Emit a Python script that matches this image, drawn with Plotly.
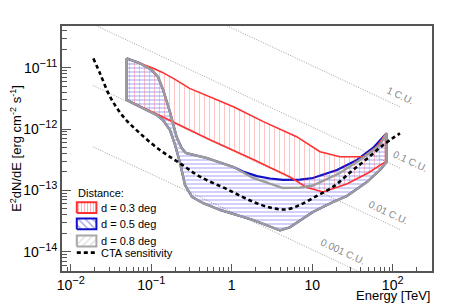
import plotly.graph_objects as go

# ---------------- data ----------------
# d = 0.8 deg band (grey outline)
E_gray_up = [0.0496, 0.0726, 0.101, 0.122, 0.141, 0.171, 0.207, 0.239, 0.27, 0.333, 0.489,
             1.05, 1.84, 4.34, 7.05, 10.2, 22.1, 42.8, 69.5, 84]
F_gray_up = [1.42e-11, 1.18e-11, 9.2e-12, 7.05e-12, 4.3e-12, 1.9e-12, 7.4e-13, 4.9e-13, 4.07e-13,
             3.78e-13, 3.37e-13, 2.4e-13, 1.59e-13, 1.09e-13, 1.11e-13, 1.2e-13, 1.92e-13,
             3.4e-13, 5.5e-13, 8.5e-13]
E_gray_lo = [0.0496, 0.117, 0.140, 0.171, 0.198, 0.228, 0.263, 0.321, 0.44, 0.716, 1.84, 3.98,
             5.3, 7.05, 10.2, 18.1, 27, 47.9, 69.5, 84]
F_gray_lo = [2.97e-12, 1.69e-12, 1.40e-12, 9.6e-13, 5.5e-13, 2.79e-13, 1.22e-13, 7.8e-14, 6.2e-14,
             4.8e-14, 3.29e-14, 2.22e-14, 2.5e-14, 3.16e-14, 4.44e-14, 6.45e-14, 8.1e-14,
             1.37e-13, 2.15e-13, 2.9e-13]

# d = 0.5 deg band (blue); lower edge equals the grey lower edge
E_blue_up = [0.0496, 0.0726, 0.101, 0.122, 0.141, 0.171, 0.207, 0.239, 0.27, 0.333, 0.489,
             1.05, 1.38, 2.06, 2.99, 4.34, 7.05, 10.2, 20.3, 36, 56.9, 84]
F_blue_up = [1.42e-11, 1.18e-11, 9.2e-12, 7.05e-12, 4.3e-12, 1.9e-12, 7.4e-13, 4.9e-13, 4.07e-13,
             3.78e-13, 3.37e-13, 2.4e-13, 2.03e-13, 1.71e-13, 1.56e-13, 1.48e-13, 1.5e-13,
             1.59e-13, 2.15e-13, 3.13e-13, 4.91e-13, 8.5e-13]
E_blue_lo = E_gray_lo
F_blue_lo = F_gray_lo

# d = 0.3 deg band (red)
E_red_up = [0.0496, 0.0726, 0.106, 0.14, 0.2, 0.3, 0.45, 0.7, 1.05, 2.47, 6.4, 12.5, 22.1, 43.1,
            63.3, 80, 84]
F_red_up = [1.42e-11, 1.18e-11, 9.8e-12, 8.3e-12, 6.4e-12, 4.6e-12, 3.7e-12, 2.95e-12, 2.31e-12,
            1.32e-12, 7.5e-13, 4.27e-13, 3.54e-13, 3.54e-13, 5.15e-13, 8.0e-13, 8.5e-13]
E_red_lo = [0.0496, 0.117, 0.512, 1.69, 5.3, 8.6, 13.7, 26.8, 49.3, 84]
F_red_lo = [2.97e-12, 1.76e-12, 6.9e-13, 3.37e-13, 1.65e-13, 1.11e-13, 9.4e-14, 1.27e-13, 1.92e-13, 3.0e-13]

# CTA sensitivity
E_cta = [0.0191, 0.0231, 0.0308, 0.045, 0.0726, 0.128, 0.228, 0.404, 0.867, 1.85, 3.29, 4.82,
         7.05, 11.4, 18.3, 29.5, 47.5, 76.4, 123]
F_cta = [1.42e-11, 8.1e-12, 3.37e-12, 1.59e-12, 8.5e-13, 4.55e-13, 2.76e-13, 1.67e-13, 1.05e-13,
         6.5e-14, 5.1e-14, 4.9e-14, 5.8e-14, 8.1e-14, 1.15e-13, 1.95e-13, 3.25e-13, 5.5e-13, 8.5e-13]

# Crab-unit reference lines (end points)
cu_names = ["1 C.U.", "0.1 C.U.", "0.01 C.U.", "0.001 C.U."]
cu_E = [0.0191, 123]
cu_F = [[5.1e-10, 2.3e-12], [5.1e-11, 2.3e-13], [5.1e-12, 2.3e-14], [5.1e-13, 2.3e-15]]
cu_label_pos = [(2.091, -11.46), (2.224, -12.533), (1.942, -13.369), (1.379, -14.0)]

legend_title = "Distance:"
legend_names = ["d = 0.3 deg", "d = 0.5 deg", "d = 0.8 deg", "CTA sensitivity"]

SUP = "<sup><span style='font-size:11px'>{}</span></sup>"
x_tickvals = [0.01, 0.1, 1, 10, 100]
x_ticktext = ["10" + SUP.format("\u22122"), "10" + SUP.format("\u22121"), "1", "10", "10" + SUP.format("2")]
y_tickvals = [1e-14, 1e-13, 1e-12, 1e-11]
y_ticktext = ["10" + SUP.format("\u221214"), "10" + SUP.format("\u221213"),
              "10" + SUP.format("\u221212"), "10" + SUP.format("\u221211")]

x_minor = [m * 10.0 ** k for k in range(-3, 3) for m in range(2, 10)]
y_minor = [m * 10.0 ** k for k in range(-15, -10) for m in range(2, 10)]

FONT = "Liberation Sans, Arial, Helvetica, sans-serif"
RED, BLUE, GREY = "#ff3030", "#1010c8", "#9c9c9c"

def band(xu, yu, xl, yl):
    return list(xu) + list(reversed(xl)) + [xu[0]], list(yu) + list(reversed(yl)) + [yu[0]]

fig = go.Figure()

for ff in cu_F:
    fig.add_trace(go.Scatter(x=cu_E, y=ff, mode="lines", showlegend=False, hoverinfo="skip",
                             line=dict(color="#a0a0a0", width=1, dash="1px,1.5px")))

bx, by = band(E_blue_up, F_blue_up, E_blue_lo, F_blue_lo)
fig.add_trace(go.Scatter(x=bx, y=by, mode="lines", fill="toself", name=legend_names[1],
                         fillcolor="rgba(0,0,0,0)",
                         fillpattern=dict(shape="-", fgcolor="rgba(45,45,235,0.9)",
                                          bgcolor="rgba(0,0,0,0)", size=4, solidity=0.25),
                         line=dict(color=BLUE, width=2.2)))

rx, ry = band(E_red_up, F_red_up, E_red_lo, F_red_lo)
fig.add_trace(go.Scatter(x=rx, y=ry, mode="lines", fill="toself", name=legend_names[0],
                         fillcolor="rgba(0,0,0,0)",
                         fillpattern=dict(shape="|", fgcolor="rgba(255,60,60,0.6)",
                                          bgcolor="rgba(0,0,0,0)", size=5, solidity=0.2),
                         line=dict(color=RED, width=1.6)))

gx, gy = band(E_gray_up, F_gray_up, E_gray_lo, F_gray_lo)
fig.add_trace(go.Scatter(x=gx, y=gy, mode="lines", name=legend_names[2],
                         line=dict(color=GREY, width=2.4)))

fig.add_trace(go.Scatter(x=E_cta, y=F_cta, mode="lines", name=legend_names[3],
                         line=dict(color="black", width=2.6, dash="4px,3px", shape="spline")))

# ---------- hand-drawn legend (ROOT style, on an overlay 0..1 axis) ----------
sw_x0, sw_x1 = 0.040, 0.093
sw_rows = [(0.237, 0.281), (0.170, 0.214), (0.100, 0.145)]
sw_style = [
    dict(shape="|", fgcolor="rgba(255,60,60,0.75)", size=3, solidity=0.34, line=RED),
    dict(shape="\\", fgcolor="rgba(30,30,210,0.9)", size=5, solidity=0.25, line=BLUE),
    dict(shape="/", fgcolor="rgba(175,175,175,0.9)", size=5, solidity=0.25, line="#a8a8a8"),
]
for (y0, y1), st in zip(sw_rows, sw_style):
    fig.add_trace(go.Scatter(x=[sw_x0, sw_x1, sw_x1, sw_x0, sw_x0], y=[y0, y0, y1, y1, y0],
                             xaxis="x2", yaxis="y2", mode="lines", fill="toself",
                             showlegend=False, hoverinfo="skip", fillcolor="rgba(0,0,0,0)",
                             fillpattern=dict(shape=st["shape"], fgcolor=st["fgcolor"],
                                              bgcolor="rgba(0,0,0,0)", size=st["size"],
                                              solidity=st["solidity"]),
                             line=dict(color=st["line"], width=2)))
fig.add_trace(go.Scatter(x=[sw_x0, sw_x1], y=[0.075, 0.075], xaxis="x2", yaxis="y2",
                         mode="lines", showlegend=False, hoverinfo="skip",
                         line=dict(color="black", width=2.6, dash="4px,3px")))

fig.add_annotation(x=0.037, y=0.317, xref="paper", yref="paper", text=legend_title,
                   showarrow=False, xanchor="left", yanchor="middle",
                   font=dict(family=FONT, size=11, color="black"))
for name, yc in zip(legend_names, [0.259, 0.192, 0.1225, 0.075]):
    fig.add_annotation(x=0.1, y=yc, xref="paper", yref="paper", text=name,
                       showarrow=False, xanchor="left", yanchor="middle",
                       font=dict(family=FONT, size=11, color="black"))

for name, (lx, ly) in zip(cu_names, cu_label_pos):
    fig.add_annotation(x=lx, y=ly, xref="x", yref="y", text=name, showarrow=False,
                       textangle=25, font=dict(family=FONT, size=10, color="#8a8a8a"))

fig.add_annotation(x=1, y=-0.102, xref="paper", yref="paper", text="Energy [TeV]",
                   showarrow=False, xanchor="right", yanchor="middle",
                   font=dict(family=FONT, size=13, color="black"))

axis_common = dict(type="log", showgrid=False, zeroline=False, showline=True, linecolor="#555555",
                   linewidth=1.5, mirror=True, ticks="inside", tickcolor="#555555", tickwidth=1,
                   tickfont=dict(family=FONT, size=14, color="black"), tickmode="array")

# page body adds an 8 px offset, so the figure is 8 px smaller than the window
fig.update_layout(
    width=455, height=299,
    margin=dict(l=54, r=31, t=18, b=36, autoexpand=False),
    plot_bgcolor="white", paper_bgcolor="white",
    font=dict(family=FONT, color="black"),
    showlegend=False,
    xaxis=dict(axis_common, range=[-2.108, 2.488], tickvals=x_tickvals, ticktext=x_ticktext,
               ticklen=7,
               minor=dict(ticks="inside", ticklen=4, tickvals=x_minor, tickcolor="#555555")),
    yaxis=dict(axis_common, range=[-14.315, -10.32], tickvals=y_tickvals, ticktext=y_ticktext,
               ticklen=9,
               minor=dict(ticks="inside", ticklen=5, tickvals=y_minor, tickcolor="#555555"),
               title=dict(text="E<sup>2</sup>dN/dE [erg cm<sup>-2</sup> s<sup>-1</sup>]",
                          font=dict(family=FONT, size=13), standoff=4)),
    xaxis2=dict(overlaying="x", range=[0, 1], visible=False, fixedrange=True),
    yaxis2=dict(overlaying="y", range=[0, 1], visible=False, fixedrange=True),
)

fig.write_html("out.html")
